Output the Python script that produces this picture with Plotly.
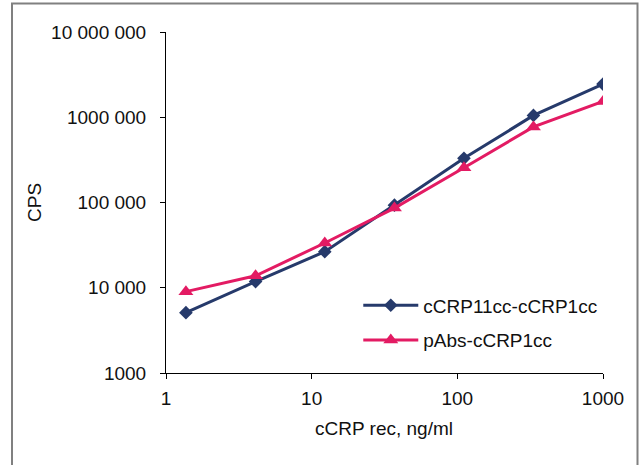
import plotly.graph_objects as go

conc = [1.37, 4.12, 12.3, 37.0, 111, 333, 1000]
cps_cc = [5100, 11800, 26500, 93000, 330000, 1050000, 2450000]
cps_pabs = [9000, 13800, 33500, 86000, 256000, 770000, 1530000]

y_tickvals = [1000, 10000, 100000, 1000000, 10000000]
y_ticktext = ["1000", "10 000", "100 000", "1000 000", "10 000 000"]
x_tickvals = [1, 10, 100, 1000]
x_ticktext = ["1", "10", "100", "1000"]

BLUE = "#263a6b"
PINK = "#e31b63"
FONT = "Liberation Sans, Arial, sans-serif"
FS = 19

fig = go.Figure()
fig.add_trace(go.Scatter(
    x=conc, y=cps_cc, name="cCRP11cc-cCRP1cc", mode="lines+markers",
    line=dict(color=BLUE, width=3),
    marker=dict(symbol="diamond", size=10.5, color=BLUE),
    legendgroup="a",
))
fig.add_trace(go.Scatter(
    x=conc, y=cps_pabs, name="pAbs-cCRP1cc", mode="lines+markers",
    line=dict(color=PINK, width=3),
    marker=dict(symbol="triangle-up", size=13, color=PINK),
    legendgroup="b",
))

fig.update_layout(
    width=640, height=465,
    margin=dict(l=166, r=37, t=32, b=92),
    paper_bgcolor="white", plot_bgcolor="white",
    font=dict(family=FONT, size=FS, color="#111111"),
    showlegend=True,
    legend=dict(
        x=0.44, y=0.254, xanchor="left", yanchor="top",
        bgcolor="rgba(0,0,0,0)", borderwidth=0,
        font=dict(size=FS, color="#111111"),
        itemwidth=55, tracegroupgap=7,
    ),
    xaxis=dict(
        type="log", range=[0, 3],
        tickvals=x_tickvals, ticktext=x_ticktext,
        showgrid=False, zeroline=False,
        showline=True, linecolor="black", linewidth=1,
        ticks="outside", ticklen=5, tickcolor="black", tickwidth=1,
        ticklabelstandoff=3,
    ),
    yaxis=dict(
        type="log", range=[3, 7],
        tickvals=y_tickvals, ticktext=y_ticktext,
        showgrid=False, zeroline=False,
        showline=True, linecolor="black", linewidth=1,
        ticks="outside", ticklen=5, tickcolor="black", tickwidth=1,
        ticklabelstandoff=10,
    ),
    annotations=[
        dict(text="CPS", xref="paper", yref="paper",
             x=(34 - 166) / 437, y=(373 - 203) / 341,
             showarrow=False, textangle=-90, font=dict(size=FS),
             xanchor="center", yanchor="middle"),
        dict(text="cCRP rec, ng/ml", xref="paper", yref="paper",
             x=(384 - 166) / 437, y=(373 - 428) / 341,
             showarrow=False, font=dict(size=FS),
             xanchor="center", yanchor="middle"),
    ],
    shapes=[
        dict(type="rect", xref="paper", yref="paper",
             x0=(12 - 166) / 437, x1=(637.5 - 166) / 437,
             y0=(373 - 475) / 341, y1=(373 - 3.5) / 341,
             line=dict(color="#808080", width=2), fillcolor="rgba(0,0,0,0)",
             layer="below"),
    ],
)

fig.write_html(
    "out.html",
    config={"displayModeBar": False},
    post_script="document.body.style.margin='0';document.body.style.overflow='hidden';",
)
